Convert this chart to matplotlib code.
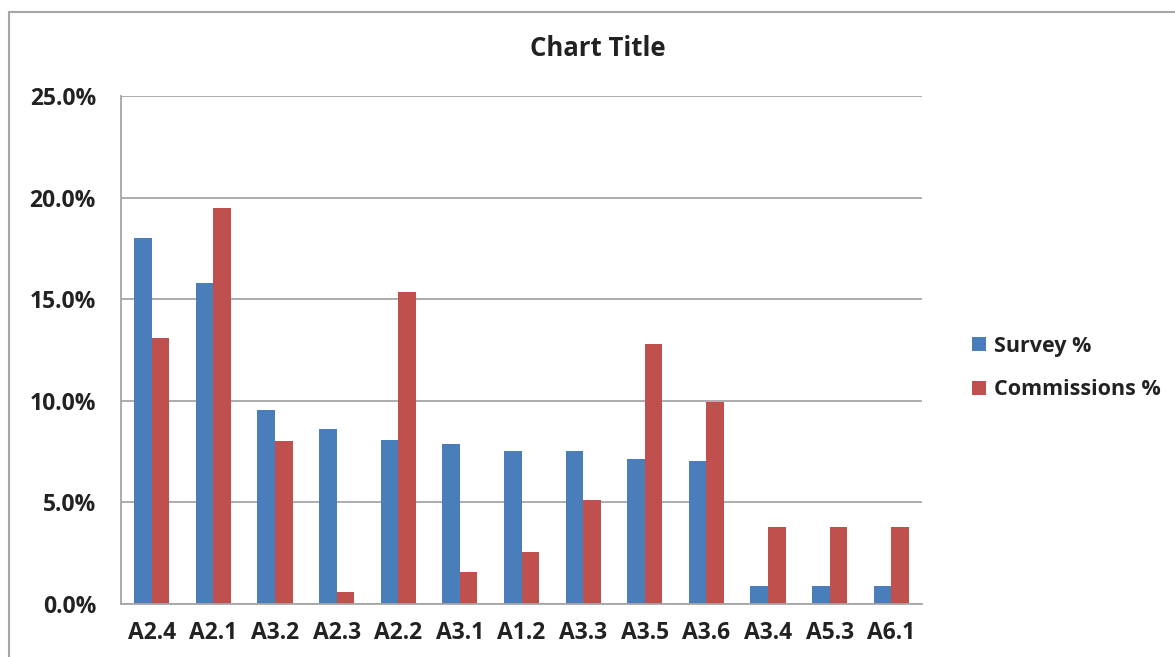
import matplotlib
matplotlib.use("Agg")
import matplotlib.pyplot as plt
import numpy as np
from matplotlib.patches import Rectangle
from matplotlib.ticker import FuncFormatter

categories = ["A2.4", "A2.1", "A3.2", "A2.3", "A2.2", "A3.1", "A1.2",
              "A3.3", "A3.5", "A3.6", "A3.4", "A5.3", "A6.1"]
survey_pct = [18.0, 15.8, 9.57, 8.61, 8.08, 7.89, 7.55,
              7.55, 7.14, 7.04, 0.91, 0.91, 0.91]
commissions_pct = [13.1, 19.5, 8.02, 0.61, 15.35, 1.56, 2.54,
                   5.11, 12.8, 9.95, 3.81, 3.81, 3.81]
y_ticks = [0, 5, 10, 15, 20, 25]

BLUE = "#4a7ebb"
RED = "#c0504d"
GRID = "#a6a6a6"
TEXT = "#222222"

plt.rcParams["font.family"] = ["Open Sans", "DejaVu Sans"]

W, H = 1175, 657
fig = plt.figure(figsize=(W / 100, H / 100), dpi=100)

# chart-area frame
fig.patches.append(Rectangle((9 / W, -0.05), 1.2, (H - 12) / H + 0.05,
                             transform=fig.transFigure, fill=False,
                             edgecolor="#a6a6a6", linewidth=1.5))

ax = fig.add_axes([121 / W, 1 - 604 / H, (922 - 121) / W, (604 - 96) / H])

x = np.arange(len(categories))
bw = 0.285
ax.bar(x - bw / 2, survey_pct, bw, color=BLUE, label="Survey %", zorder=3)
ax.bar(x + bw / 2, commissions_pct, bw, color=RED, label="Commissions %", zorder=3)

ax.set_xlim(-0.5, len(categories) - 0.5)
ax.set_ylim(0, 25)
ax.set_yticks(y_ticks)
ax.yaxis.set_major_formatter(FuncFormatter(lambda v, p: f"{v:.1f}%"))
ax.set_xticks(x)
ax.set_xticklabels(categories)
ax.grid(axis="y", color=GRID, linewidth=1.3, zorder=0)

for s in ["top", "right"]:
    ax.spines[s].set_visible(False)
for s in ["left", "bottom"]:
    ax.spines[s].set_color(GRID)
    ax.spines[s].set_linewidth(1.3)
ax.spines["bottom"].set_zorder(4)

ax.tick_params(axis="both", length=0, labelsize=16.5, colors=TEXT)
ax.tick_params(axis="y", pad=18)
ax.tick_params(axis="x", pad=12)
for lab in ax.get_xticklabels() + ax.get_yticklabels():
    lab.set_fontweight("bold")

fig.text(598 / W, 1 - 49 / H, "Chart Title", ha="center", va="center",
         fontsize=18.5, fontweight="bold", color=TEXT)

leg = fig.legend(loc="center left", bbox_to_anchor=(953 / W, 1 - 368 / H),
                 frameon=False, prop={"size": 15.5, "weight": "bold"},
                 handlelength=0.65, handleheight=0.65, handletextpad=0.35,
                 labelspacing=1.05)
for t in leg.get_texts():
    t.set_color(TEXT)

fig.savefig("out.png", dpi=100)
